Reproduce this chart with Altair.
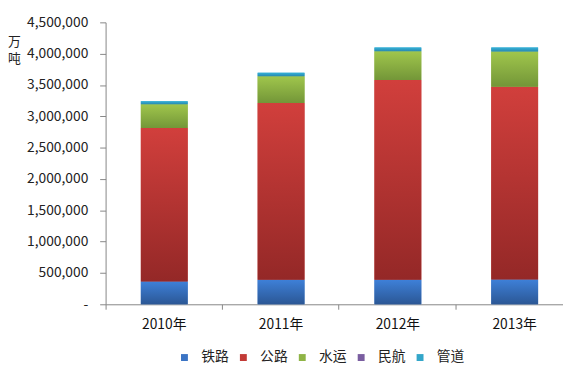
import altair as alt
import pandas as pd

years = ["2010年", "2011年", "2012年", "2013年"]
types = ["铁路", "公路", "水运", "民航", "管道"]
rail = [364271, 393263, 390438, 396697]
road = [2448052, 2820100, 3188475, 3076648]
water = [378949, 425968, 458705, 559785]
air = [563, 557, 545, 561]
pipe = [49972, 57073, 61094, 65209]
series = [rail, road, water, air, pipe]

solid = ["#3b74c4", "#c23a36", "#8fb446", "#7a5ea0", "#33a6c9"]
tops = ["#3e80d8", "#d13f3c", "#a0c64c", "#8468aa", "#34b2da"]
bottoms = ["#2b5795", "#942827", "#739638", "#5c4879", "#2988ad"]

rows = []
for ti, t in enumerate(types):
    for yi, yr in enumerate(years):
        rows.append({"year": yr, "type": t, "order": ti, "value": series[ti][yi]})
df = pd.DataFrame(rows)

FONT = "Noto Sans CJK SC"

x = alt.X(
    "year:N", sort=years, title=None,
    scale=alt.Scale(paddingInner=0.084, paddingOuter=0),
    axis=alt.Axis(labelAngle=0, bandPosition=0, labelOffset=5.25, tickSize=5,
                  labelPadding=9, labelFontSize=14, labelColor="#111111",
                  domainColor="#868686", tickColor="#868686", labelFont=FONT),
)
y = alt.Y(
    "y0:Q",
    scale=alt.Scale(domain=[0, 4500000], nice=False),
    axis=alt.Axis(
        values=list(range(0, 4500001, 500000)),
        labelExpr="datum.value == 0 ? '-   ' : format(datum.value, ',')",
        title=["万", "吨"], titleAngle=0, titleX=-93, titleY=13,
        titleAlign="center", titleBaseline="top", titleFontSize=13,
        titleLineHeight=18, titleFont=FONT, titleFontWeight="normal",
        titleColor="#222222",
        labelFontSize=14, labelColor="#222222", labelFont=FONT,
        labelPadding=12, tickSize=6, grid=False,
        domainColor="#868686", tickColor="#868686",
    ),
)

base = alt.Chart(df).transform_stack(
    stack="value", groupby=["year"],
    sort=[alt.SortField(field="order", order="ascending")],
    as_=["y0", "y1"],
)

legend_layer = base.mark_bar(width=47.5, xOffset=5.25).encode(
    x=x, y=y, y2="y1:Q",
    color=alt.Color(
        "type:N", sort=types,
        scale=alt.Scale(domain=types, range=solid),
        legend=alt.Legend(
            title=None, orient="none", legendX=73, legendY=333,
            direction="horizontal", symbolType="square", symbolSize=49,
            symbolStrokeWidth=0, labelFontSize=14, labelFont=FONT,
            labelColor="#222222", labelOffset=10, columnPadding=7.75,
        ),
    ),
)

layers = [legend_layer]
for i, t in enumerate(types):
    layers.append(
        base.transform_filter(alt.datum.type == t)
        .mark_bar(
            width=47.5, xOffset=5.25,
            color=alt.Gradient(
                gradient="linear",
                stops=[alt.GradientStop(color=tops[i], offset=0),
                       alt.GradientStop(color=bottoms[i], offset=1)],
                x1=0, x2=0, y1=0, y2=1,
            ),
        )
        .encode(x=x, y=y, y2="y1:Q")
    )

chart = alt.layer(*layers).properties(
    width=464, height=286,
    autosize=alt.AutoSizeParams(type="none"),
    padding={"left": 99, "top": 12, "right": 0, "bottom": 58},
).configure_view(stroke=None)

chart.save("out.html", embed_options={"renderer": "svg", "actions": False})
